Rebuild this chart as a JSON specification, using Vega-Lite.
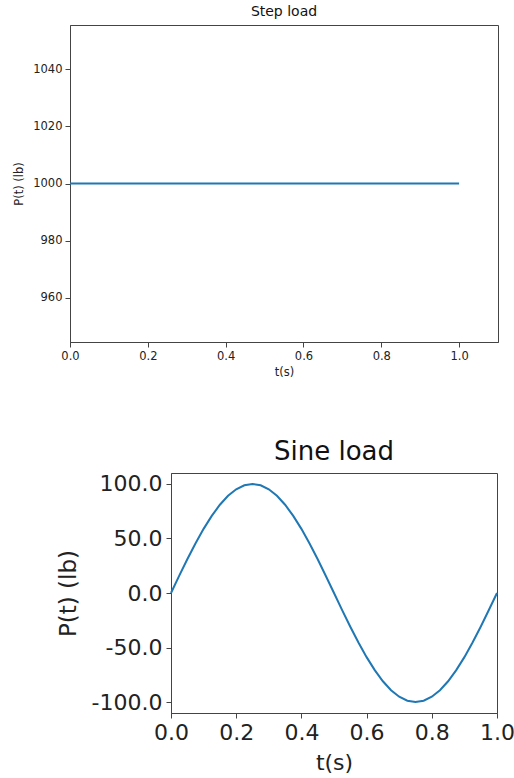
{
  "$schema": "https://vega.github.io/schema/vega-lite/v6.json",
  "padding": {"left": 13, "top": 4, "right": 0, "bottom": 0},
  "background": "white",
  "bounds": "flush",
  "spacing": 131,
  "config": {
    "font": "DejaVu Sans",
    "view": {"stroke": "#444", "strokeWidth": 1},
    "axis": {
      "grid": false,
      "domainColor": "#444",
      "tickColor": "#444",
      "labelColor": "#222",
      "titleColor": "#222",
      "labelFont": "DejaVu Sans",
      "titleFont": "DejaVu Sans",
      "titleFontWeight": "normal"
    },
    "title": {"font": "DejaVu Sans", "fontWeight": "normal", "color": "#111"}
  },
  "datasets": {
    "step": [
      {"t": 0.0, "P": 1000}, {"t": 0.1, "P": 1000}, {"t": 0.2, "P": 1000},
      {"t": 0.3, "P": 1000}, {"t": 0.4, "P": 1000}, {"t": 0.5, "P": 1000},
      {"t": 0.6, "P": 1000}, {"t": 0.7, "P": 1000}, {"t": 0.8, "P": 1000},
      {"t": 0.9, "P": 1000}, {"t": 1.0, "P": 1000}
    ],
    "sine": [
      {"t": 0.000, "P": 0.0}, {"t": 0.025, "P": 15.64}, {"t": 0.050, "P": 30.90},
      {"t": 0.075, "P": 45.40}, {"t": 0.100, "P": 58.78}, {"t": 0.125, "P": 70.71},
      {"t": 0.150, "P": 80.90}, {"t": 0.175, "P": 89.10}, {"t": 0.200, "P": 95.11},
      {"t": 0.225, "P": 98.77}, {"t": 0.250, "P": 100.0}, {"t": 0.275, "P": 98.77},
      {"t": 0.300, "P": 95.11}, {"t": 0.325, "P": 89.10}, {"t": 0.350, "P": 80.90},
      {"t": 0.375, "P": 70.71}, {"t": 0.400, "P": 58.78}, {"t": 0.425, "P": 45.40},
      {"t": 0.450, "P": 30.90}, {"t": 0.475, "P": 15.64}, {"t": 0.500, "P": 0.0},
      {"t": 0.525, "P": -15.64}, {"t": 0.550, "P": -30.90}, {"t": 0.575, "P": -45.40},
      {"t": 0.600, "P": -58.78}, {"t": 0.625, "P": -70.71}, {"t": 0.650, "P": -80.90},
      {"t": 0.675, "P": -89.10}, {"t": 0.700, "P": -95.11}, {"t": 0.725, "P": -98.77},
      {"t": 0.750, "P": -100.0}, {"t": 0.775, "P": -98.77}, {"t": 0.800, "P": -95.11},
      {"t": 0.825, "P": -89.10}, {"t": 0.850, "P": -80.90}, {"t": 0.875, "P": -70.71},
      {"t": 0.900, "P": -58.78}, {"t": 0.925, "P": -45.40}, {"t": 0.950, "P": -30.90},
      {"t": 0.975, "P": -15.64}, {"t": 1.000, "P": 0.0}
    ]
  },
  "vconcat": [
    {
      "title": {"text": "Step load", "fontSize": 14, "offset": 6},
      "width": 428,
      "height": 317,
      "data": {"name": "step"},
      "mark": {"type": "line", "color": "#1f77b4", "strokeWidth": 2},
      "encoding": {
        "x": {
          "field": "t", "type": "quantitative",
          "scale": {"domain": [0, 1.1], "nice": false, "zero": false},
          "axis": {"values": [0, 0.2, 0.4, 0.6, 0.8, 1.0], "format": ".1f", "title": "t(s)",
                   "labelFontSize": 11.5, "titleFontSize": 11.5, "tickSize": 5, "labelPadding": 3, "titlePadding": 5, "labelFlush": false}
        },
        "y": {
          "field": "P", "type": "quantitative",
          "scale": {"domain": [944.5, 1055.5], "nice": false, "zero": false},
          "axis": {"values": [960, 980, 1000, 1020, 1040], "format": "d", "title": "P(t) (lb)",
                   "labelFontSize": 11.5, "titleFontSize": 11.5, "tickSize": 5, "labelPadding": 3, "titlePadding": 8}
        }
      }
    },
    {
      "spacing": 0,
      "bounds": "flush",
      "hconcat": [
        {
          "width": 101,
          "height": 240,
          "view": {"stroke": null},
          "data": {"values": [{}]},
          "mark": {"type": "point", "opacity": 0},
          "encoding": {}
        },
        {
          "title": {"text": "Sine load", "fontSize": 26, "offset": 8},
          "width": 326,
          "height": 240,
          "data": {"name": "sine"},
          "mark": {"type": "line", "color": "#1f77b4", "strokeWidth": 2},
          "encoding": {
            "x": {
              "field": "t", "type": "quantitative",
              "scale": {"domain": [0, 1], "nice": false, "zero": false},
              "axis": {"values": [0, 0.2, 0.4, 0.6, 0.8, 1.0], "format": ".1f", "title": "t(s)",
                       "labelFontSize": 22, "titleFontSize": 22, "tickSize": 5, "labelPadding": 4, "titlePadding": 9, "labelFlush": false}
            },
            "y": {
              "field": "P", "type": "quantitative",
              "scale": {"domain": [-110, 110], "nice": false, "zero": false},
              "axis": {"values": [-100, -50, 0, 50, 100], "title": "P(t) (lb)",
                       "labelExpr": "replace(format(datum.value, '.1f'), '\u2212', '-')",
                       "labelFontSize": 22, "titleFontSize": 23, "tickSize": 5, "labelPadding": 4, "titlePadding": 11}
            }
          }
        }
      ]
    }
  ]
}
